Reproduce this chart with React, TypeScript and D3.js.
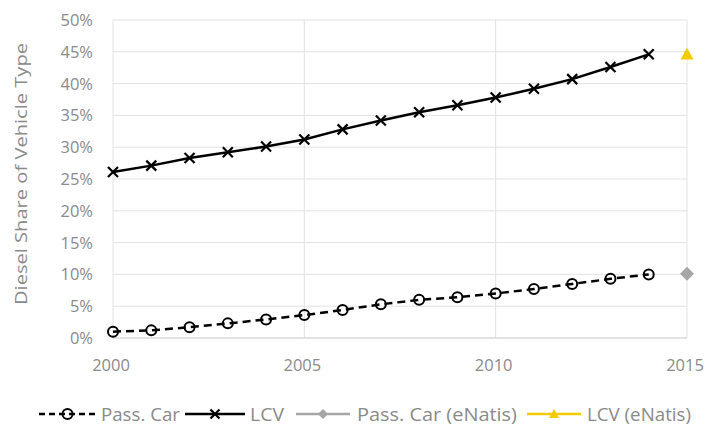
import React from "react";
import * as d3 from "d3";

const years = [2000, 2001, 2002, 2003, 2004, 2005, 2006, 2007, 2008, 2009, 2010, 2011, 2012, 2013, 2014];
const passCar = [1.0, 1.2, 1.7, 2.3, 2.9, 3.6, 4.4, 5.3, 6.0, 6.4, 7.0, 7.7, 8.5, 9.3, 10.0];
const lcv = [26.1, 27.1, 28.3, 29.2, 30.1, 31.2, 32.8, 34.2, 35.5, 36.6, 37.8, 39.2, 40.7, 42.6, 44.6];
const eNatisYear = [2015];
const passCarENatis = [10.1];
const lcvENatis = [44.6];
const xTicks = [2000, 2005, 2010, 2015];
const yTicks = [0, 5, 10, 15, 20, 25, 30, 35, 40, 45, 50];
const legendLabels = ["Pass. Car", "LCV", "Pass. Car (eNatis)", "LCV (eNatis)"];

const W = 711;
const H = 431;
const FONT = "'Open Sans', sans-serif";
const TEXT = "#8a8a8a";
const GRID = "#e2e2e2";
const GREY = "#a6a6a6";
const GOLD = "#f2cc00";

export default function App() {
  const x = d3.scaleLinear().domain([2000, 2015]).range([113, 687]);
  const y = d3.scaleLinear().domain([0, 50]).range([338, 20]);

  const line = d3
    .line<[number, number]>()
    .x((d) => x(d[0]))
    .y((d) => y(d[1]));

  const pcPts: [number, number][] = years.map((yr, i) => [yr, passCar[i]]);
  const lcvPts: [number, number][] = years.map((yr, i) => [yr, lcv[i]]);

  const xMark = (cx: number, cy: number, s: number, key: string) => (
    <path
      key={key}
      d={`M${cx - s},${cy - s}L${cx + s},${cy + s}M${cx - s},${cy + s}L${cx + s},${cy - s}`}
      stroke="#000"
      strokeWidth={2.2}
      fill="none"
    />
  );
  const circ = (cx: number, cy: number, key: string) => (
    <circle key={key} cx={cx} cy={cy} r={5} fill="none" stroke="#000" strokeWidth={2} />
  );
  const diamond = (cx: number, cy: number, s: number, key: string) => (
    <path key={key} d={`M${cx},${cy - s}L${cx + s},${cy}L${cx},${cy + s}L${cx - s},${cy}Z`} fill={GREY} />
  );
  const tri = (cx: number, cy: number, s: number, key: string) => (
    <path key={key} d={`M${cx},${cy - s}L${cx + s},${cy + s * 0.8}L${cx - s},${cy + s * 0.8}Z`} fill={GOLD} />
  );

  // legend layout
  const ly = 414;
  const legendItems = [
    { x0: 39, x1: 96, tx: 101, tl: 79, kind: "pc" },
    { x0: 185, x1: 245, tx: 250, tl: 34, kind: "lcv" },
    { x0: 296, x1: 350, tx: 357, tl: 160, kind: "pce" },
    { x0: 527, x1: 581, tx: 587, tl: 104, kind: "lcve" },
  ];

  return (
    <svg width={W} height={H} style={{ position: "absolute", left: 0, top: 0, background: "#fff" }}>
      {/* gridlines */}
      {yTicks.map((t) => (
        <line key={"gy" + t} x1={113} x2={687} y1={y(t)} y2={y(t)} stroke={GRID} strokeWidth={1} />
      ))}
      {xTicks.map((t) => (
        <line key={"gx" + t} x1={x(t)} x2={x(t)} y1={y(50)} y2={y(0)} stroke={GRID} strokeWidth={1} />
      ))}
      <line x1={113} x2={687} y1={y(0)} y2={y(0)} stroke="#d4d4d4" strokeWidth={1.2} />

      {/* y tick labels */}
      {yTicks.map((t) => (
        <text
          key={"ty" + t}
          x={93}
          y={y(t) + 6}
          textAnchor="end"
          fontFamily={FONT}
          fontSize={16.5}
          fill={TEXT}
        >
          {t + "%"}
        </text>
      ))}
      {/* x tick labels */}
      {xTicks.map((t) => (
        <text
          key={"tx" + t}
          x={x(t) - 2}
          y={371}
          textAnchor="middle"
          fontFamily={FONT}
          fontSize={16.5}
          fill={TEXT}
        >
          {t}
        </text>
      ))}

      {/* y title */}
      <text
        transform={`translate(27,174) rotate(-90)`}
        textAnchor="middle"
        fontFamily={FONT}
        fontSize={16.5}
        fill={TEXT}
        textLength={262}
        lengthAdjust="spacingAndGlyphs"
      >
        Diesel Share of Vehicle Type
      </text>

      {/* series */}
      <path d={line(lcvPts) || ""} fill="none" stroke="#000" strokeWidth={2.5} />
      {lcvPts.map((p, i) => xMark(x(p[0]), y(p[1]), 5, "lx" + i))}

      <path d={line(pcPts) || ""} fill="none" stroke="#000" strokeWidth={2.5} strokeDasharray="8,5" />
      {pcPts.map((p, i) => circ(x(p[0]), y(p[1]), "pc" + i))}

      {eNatisYear.map((yr, i) => diamond(x(yr), y(passCarENatis[i]), 7, "pe" + i))}
      {eNatisYear.map((yr, i) => tri(x(yr), y(lcvENatis[i]), 6.5, "le" + i))}

      {/* legend */}
      {legendItems.map((it, i) => {
        const mid = (it.x0 + it.x1) / 2;
        let lineEl;
        let marker;
        if (it.kind === "pc") {
          lineEl = <line x1={it.x0} x2={it.x1} y1={ly} y2={ly} stroke="#000" strokeWidth={2.5} strokeDasharray="6,4" />;
          marker = circ(mid, ly, "lgm" + i);
        } else if (it.kind === "lcv") {
          lineEl = <line x1={it.x0} x2={it.x1} y1={ly} y2={ly} stroke="#000" strokeWidth={2.5} />;
          marker = xMark(mid, ly, 4.5, "lgm" + i);
        } else if (it.kind === "pce") {
          lineEl = <line x1={it.x0} x2={it.x1} y1={ly} y2={ly} stroke={GREY} strokeWidth={2.5} />;
          marker = diamond(mid, ly, 5, "lgm" + i);
        } else {
          lineEl = <line x1={it.x0} x2={it.x1} y1={ly} y2={ly} stroke={GOLD} strokeWidth={2.5} />;
          marker = tri(mid, ly, 5, "lgm" + i);
        }
        return (
          <g key={"lg" + i}>
            {lineEl}
            {marker}
            <text
              x={it.tx}
              y={ly + 6.5}
              fontFamily={FONT}
              fontSize={17.5}
              fill={TEXT}
              textLength={it.tl}
              lengthAdjust="spacingAndGlyphs"
            >
              {legendLabels[i]}
            </text>
          </g>
        );
      })}
    </svg>
  );
}
